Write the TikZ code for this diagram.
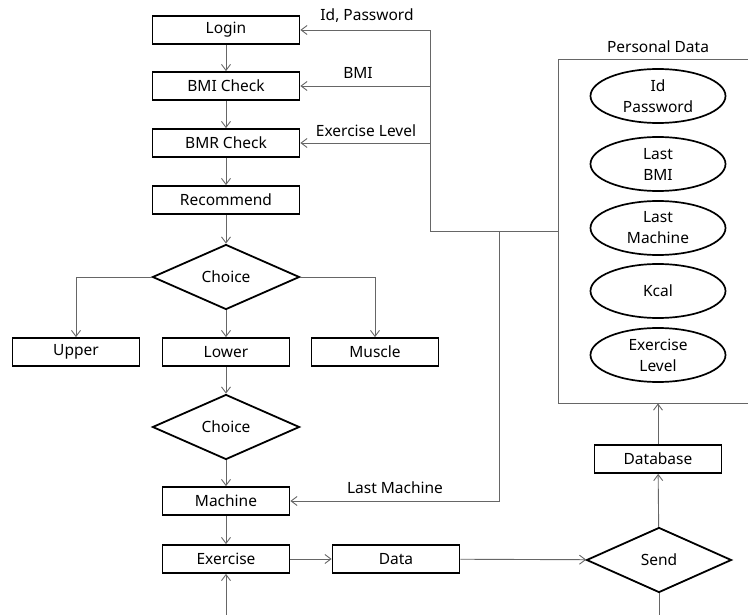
\documentclass[tikz,border=0pt]{standalone}
\usepackage{fontspec}
\setmainfont{Noto Sans}
\usetikzlibrary{shapes.geometric,arrows.meta}

\tikzset{
  stepbox/.style={draw,line width=1.8pt,minimum width=147pt,minimum height=28pt,inner sep=0pt},
  smallbox/.style={stepbox,minimum width=127pt},
  choicebox/.style={draw,diamond,line width=1.8pt,minimum width=147pt,minimum height=65pt,inner sep=0pt},
  databox/.style={draw,ellipse,line width=1.7pt,minimum width=135pt,minimum height=54pt,inner sep=0pt,align=center},
  pdbox/.style={draw=black!60,line width=0.9pt,minimum width=212pt,minimum height=344pt,inner sep=0pt},
  flow/.style={draw=black!60,line width=0.9pt,-{Straight Barb[length=6pt,width=9pt]}},
  wire/.style={draw=black!60,line width=0.9pt}
}

\begin{document}
\begin{tikzpicture}[x=1pt,y=-1pt,font=\fontsize{15.5}{21}\selectfont]
\useasboundingbox (0,0) rectangle (748,615);
\clip (0,0) rectangle (748,615);

% main flow
\node[stepbox] (login) at (226,30) {Login};
\node[stepbox] (bmi) at (226,86) {BMI Check};
\node[stepbox] (bmr) at (226,143) {BMR Check};
\node[stepbox] (rec) at (226,200) {Recommend};
\node[choicebox] (choice1) at (226,277) {Choice};
\node[smallbox] (upper) at (76,352) {Upper};
\node[smallbox] (lower) at (226,352) {Lower};
\node[smallbox] (muscle) at (375,352) {Muscle};
\node[choicebox] (choice2) at (226,427) {Choice};
\node[smallbox] (machine) at (226,501) {Machine};
\node[smallbox] (exercise) at (226,559) {Exercise};
\node[smallbox] (data) at (396,559) {Data};
\node[choicebox,minimum width=145pt] (send) at (659,560) {Send};
\node[smallbox] (db) at (658,459) {Database};

% personal data
\node[pdbox] (pd) at (664,231) {};
\node (pdlabel) at (658,47) {Personal Data};
\node[databox] (idpw) at (658,96) {Id\\Password};
\node[databox] (lastbmi) at (658,164) {Last\\BMI};
\node[databox] (lastmach) at (658,228) {Last\\Machine};
\node[databox] (kcal) at (658,291) {Kcal};
\node[databox] (exlevel) at (658,355) {Exercise\\Level};

\draw[flow] (login) -- (bmi);
\draw[flow] (bmi) -- (bmr);
\draw[flow] (bmr) -- (rec);
\draw[flow] (rec) -- (choice1);
\draw[flow] (choice1.west) -| (upper.north);
\draw[flow] (choice1) -- (lower);
\draw[flow] (choice1.east) -| (muscle.north);
\draw[flow] (lower) -- (choice2);
\draw[flow] (choice2) -- (machine);
\draw[flow] (machine) -- (exercise);
\draw[flow] (exercise) -- (data);
\draw[flow] (data) -- (send);
\draw[flow] (send) -- (db);
\draw[flow] (db.north) -- (db.north |- pd.south);
\draw[flow] (send.south) -- ++(0,40) -| (exercise.south);

% data fed back
\coordinate (fb) at (430,231);
\coordinate (fm) at (499,231);
\draw[wire] (pd.west) -- (fb);
\draw[flow] (fb) |- (login.east);
\draw[flow] (fb |- bmi.east) -- (bmi.east);
\draw[flow] (fb |- bmr.east) -- (bmr.east);
\draw[flow] (fm) |- (machine.east);

\node (lidpw) at (367,16) {Id, Password};
\node (lbmi) at (358,73) {BMI};
\node (llevel) at (366,131) {Exercise Level};
\node (lmach) at (395,488) {Last Machine};
\end{tikzpicture}
\end{document}
